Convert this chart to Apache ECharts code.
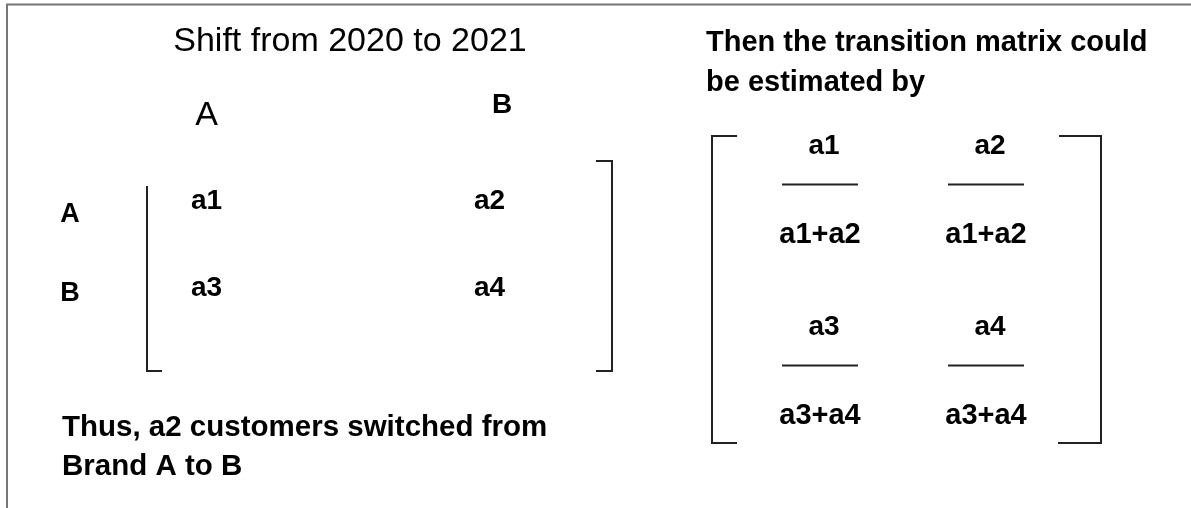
<!DOCTYPE html>
<html>
<head>
<meta charset="utf-8">
<script src="https://cdn.jsdelivr.net/npm/echarts@6/dist/echarts.min.js"></script>
<style>
  html, body { margin: 0; padding: 0; background: #fff; }
  #chart { width: 1191px; height: 508px; }
</style>
</head>
<body>
<div id="chart"></div>
<script>
// ---- content ----
const titleText = 'Shift from 2020 to 2021';
const leftColHeaders = ['A', 'B'];
const leftRowHeaders = ['A', 'B'];
const leftCells = [['a1', 'a2'], ['a3', 'a4']];
const noteText = ['Thus, a2 customers switched from', 'Brand A to B'];
const rightTitle = ['Then the transition matrix could', 'be estimated by'];
const rightCols = ['col1', 'col2'];
const rightRows = ['row1', 'row2'];
const rightNumerators = [['a1', 'a2'], ['a3', 'a4']];
const rightDenominators = [['a1+a2', 'a1+a2'], ['a3+a4', 'a3+a4']];

const FF = '"Liberation Sans", Arial, Helvetica, sans-serif';
const INK = '#000';
const LINE = '#222';

function cellData(rows, cols) {
  const out = [];
  for (let r = 0; r < rows.length; r++)
    for (let c = 0; c < cols.length; c++) out.push([c, r]);
  return out;
}

const chart = echarts.init(document.getElementById('chart'), null, { renderer: 'canvas' });

const option = {
  animation: false,
  backgroundColor: '#fff',
  grid: [
    { left: 65, width: 566, top: 158, height: 174, show: false },
    { left: 737, width: 332, top: 94, height: 362, show: false }
  ],
  xAxis: [
    {
      gridIndex: 0, type: 'category', data: leftColHeaders, position: 'top',
      axisLine: { show: false }, axisTick: { show: false }, splitLine: { show: false },
      axisLabel: {
        margin: 25, interval: 0, color: INK, fontFamily: FF,
        formatter: v => v === leftColHeaders[0] ? '{a|' + v + '}' : '{b|' + v + '}',
        rich: {
          a: { fontSize: 34, fontWeight: 'normal', fontFamily: FF, color: INK, lineHeight: 34 },
          b: { fontSize: 28, fontWeight: 'bold', fontFamily: FF, color: INK, lineHeight: 28, padding: [0, 0, 27, 25] }
        }
      }
    },
    {
      gridIndex: 1, type: 'category', data: rightCols, show: false
    }
  ],
  yAxis: [
    {
      gridIndex: 0, type: 'category', data: leftRowHeaders, inverse: true,
      axisLine: { show: false }, axisTick: { show: false }, splitLine: { show: false },
      axisLabel: {
        margin: -5, align: 'center', interval: 0,
        formatter: (v, i) => i === 0 ? '{a|' + v + '}' : '{b|' + v + '}',
        rich: {
          a: { fontSize: 27, fontWeight: 'bold', fontFamily: FF, color: INK, padding: [26, 0, 0, 0] },
          b: { fontSize: 27, fontWeight: 'bold', fontFamily: FF, color: INK, padding: [10, 0, 0, 0] }
        }
      }
    },
    {
      gridIndex: 1, type: 'category', data: rightRows, inverse: true, show: false
    }
  ],
  series: [
    {
      type: 'custom', xAxisIndex: 0, yAxisIndex: 0,
      data: cellData(leftRowHeaders, leftColHeaders),
      renderItem: (params, api) => {
        const c = api.value(0), r = api.value(1);
        const p = api.coord([c, r]);
        return {
          type: 'text', x: p[0], y: p[1],
          style: { text: leftCells[r][c], font: 'bold 28px ' + FF, fill: INK, align: 'center', verticalAlign: 'middle' }
        };
      }
    },
    {
      type: 'custom', xAxisIndex: 1, yAxisIndex: 1,
      data: cellData(rightRows, rightCols),
      renderItem: (params, api) => {
        const c = api.value(0), r = api.value(1);
        const p = api.coord([c, r]);
        return {
          type: 'group',
          children: [
            { type: 'text', x: p[0] + 4, y: p[1] - 38,
              style: { text: rightNumerators[r][c], font: 'bold 28px ' + FF, fill: INK, align: 'center', verticalAlign: 'middle' } },
            { type: 'line', shape: { x1: p[0] - 38, y1: p[1], x2: p[0] + 38, y2: p[1] },
              style: { stroke: LINE, lineWidth: 2 } },
            { type: 'text', x: p[0], y: p[1] + 50,
              style: { text: rightDenominators[r][c], font: 'bold 29px ' + FF, fill: INK, align: 'center', verticalAlign: 'middle' } }
          ]
        };
      }
    }
  ],
  graphic: {
    elements: [
      // outer frame (top & left edges)
      { type: 'polyline', shape: { points: [[7, 508], [7, 4.5], [1191, 4.5]] }, style: { stroke: '#777', lineWidth: 2, fill: null } },
      // title
      { type: 'text', x: 350, y: 42, style: { text: titleText, font: '34px ' + FF, fill: INK, align: 'center', verticalAlign: 'middle' } },
      // left matrix brackets
      { type: 'polyline', shape: { points: [[147, 186], [147, 371], [162, 371]] }, style: { stroke: LINE, lineWidth: 2, fill: null } },
      { type: 'polyline', shape: { points: [[596, 161], [612, 161], [612, 371], [596, 371]] }, style: { stroke: LINE, lineWidth: 2, fill: null } },
      // note
      { type: 'text', x: 62, y: 408, style: { text: noteText.join('\n'), font: 'bold 29.5px ' + FF, lineHeight: 39, fill: INK, align: 'left', verticalAlign: 'top' } },
      // right title
      { type: 'text', x: 706, y: 23, style: { text: rightTitle.join('\n'), font: 'bold 29px ' + FF, lineHeight: 40, fill: INK, align: 'left', verticalAlign: 'top' } },
      // right matrix brackets
      { type: 'polyline', shape: { points: [[737, 136], [712, 136], [712, 443], [737, 443]] }, style: { stroke: LINE, lineWidth: 2, fill: null } },
      { type: 'polyline', shape: { points: [[1059, 136], [1101, 136], [1101, 443], [1058, 443]] }, style: { stroke: LINE, lineWidth: 2, fill: null } }
    ]
  }
};

chart.setOption(option);
</script>
</body>
</html>
